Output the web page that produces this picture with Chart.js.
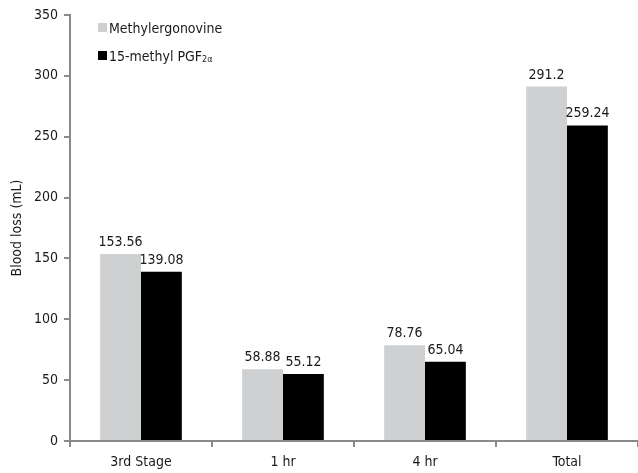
<!DOCTYPE html>
<html>
<head>
<meta charset="utf-8">
<script src="https://cdn.jsdelivr.net/npm/chart.js@4/dist/chart.umd.min.js"></script>
<style>
  html, body { margin: 0; padding: 0; background: #fff; }
  #wrap { width: 638px; height: 473px; }
</style>
</head>
<body>
<div id="wrap"><canvas id="chart" width="638" height="473"></canvas></div>
<script>
const categories = ['3rd Stage', '1 hr', '4 hr', 'Total'];
const methylergonovine = [153.56, 58.88, 78.76, 291.2];
const pgf = [139.08, 55.12, 65.04, 259.24];
const yTicks = [0, 50, 100, 150, 200, 250, 300, 350];

const FONT = "'DejaVu Sans Condensed', 'Liberation Sans Narrow', sans-serif";
const axisColor = '#8a8a8a';

// value labels above each bar
const valueLabels = {
  id: 'valueLabels',
  afterDatasetsDraw(chart) {
    const ctx = chart.ctx;
    ctx.save();
    ctx.font = '14px ' + FONT;
    ctx.fillStyle = '#1a1a1a';
    ctx.textAlign = 'center';
    ctx.textBaseline = 'alphabetic';
    chart.data.datasets.forEach((ds, i) => {
      chart.getDatasetMeta(i).data.forEach((bar, j) => {
        ctx.fillText(String(ds.data[j]), bar.x, bar.y - 8);
      });
    });
    ctx.restore();
  }
};

// vertical legend inside plot area, with subscript for PGF2α
const boxLegend = {
  id: 'boxLegend',
  afterDraw(chart) {
    const ctx = chart.ctx;
    const left = chart.chartArea.left + 28;
    const top = chart.chartArea.top + 8;
    ctx.save();
    ctx.textBaseline = 'alphabetic';
    ctx.textAlign = 'left';
    chart.data.datasets.forEach((ds, i) => {
      const y = top + i * 28;
      ctx.fillStyle = ds.backgroundColor;
      ctx.fillRect(left, y, 9, 9);
      ctx.fillStyle = '#1a1a1a';
      ctx.font = '14px ' + FONT;
      const parts = ds.label.split('_');
      ctx.fillText(parts[0], left + 11, y + 10);
      if (parts[1]) {
        const w = ctx.measureText(parts[0]).width;
        ctx.font = '9px ' + FONT;
        ctx.fillText(parts[1], left + 11 + w, y + 11);
      }
    });
    ctx.restore();
  }
};

new Chart(document.getElementById('chart'), {
  type: 'bar',
  data: {
    labels: categories,
    datasets: [
      {
        label: 'Methylergonovine',
        data: methylergonovine,
        backgroundColor: '#cfd0d2',
        barPercentage: 1,
        categoryPercentage: 0.575
      },
      {
        label: '15-methyl PGF_2α',
        data: pgf,
        backgroundColor: '#000000',
        barPercentage: 1,
        categoryPercentage: 0.575
      }
    ]
  },
  options: {
    responsive: false,
    animation: false,
    layout: { padding: { top: 15, right: 0, left: 0, bottom: 0 } },
    plugins: {
      legend: { display: false },
      tooltip: { enabled: false }
    },
    scales: {
      x: {
        grid: {
          offset: true,
          drawOnChartArea: false,
          drawTicks: true,
          tickLength: 6,
          color: axisColor,
          lineWidth: 2
        },
        border: { color: axisColor, width: 2 },
        ticks: {
          color: '#1a1a1a',
          font: { family: FONT, size: 14 },
          padding: 7,
          maxRotation: 0
        },
        afterFit(scale) { scale.height = 32; }
      },
      y: {
        min: 0,
        max: 350,
        afterBuildTicks(scale) { scale.ticks = yTicks.map(v => ({ value: v })); },
        grid: {
          drawOnChartArea: false,
          drawTicks: true,
          tickLength: 6,
          color: axisColor,
          lineWidth: 2
        },
        border: { color: axisColor, width: 2 },
        ticks: {
          color: '#1a1a1a',
          font: { family: FONT, size: 14 },
          padding: 6
        },
        title: {
          display: true,
          text: 'Blood loss (mL)',
          color: '#1a1a1a',
          font: { family: FONT, size: 14 },
          padding: { top: 9, bottom: 0 }
        },
        afterFit(scale) { scale.width = 70; }
      }
    }
  },
  plugins: [valueLabels, boxLegend]
});
</script>
</body>
</html>
